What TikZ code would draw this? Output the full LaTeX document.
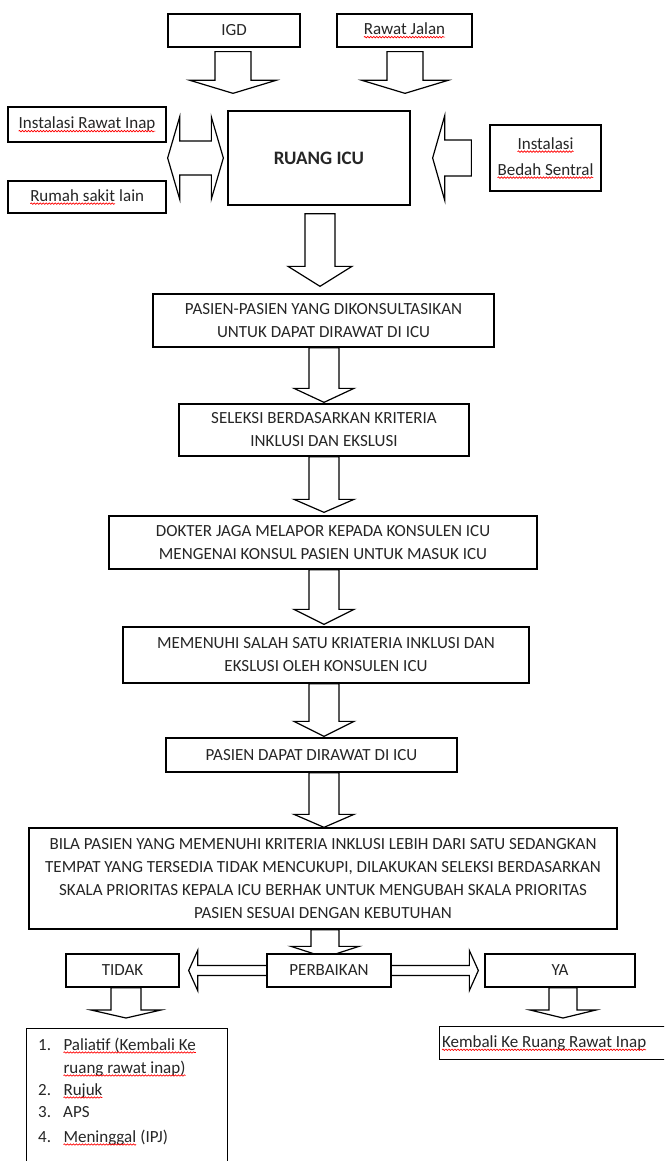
\documentclass[tikz,border=0pt]{standalone}
\usepackage{fontspec}
\setmainfont{Carlito}
\usetikzlibrary{calc,decorations.pathmorphing}
\pgfdeclarelayer{bg}
\pgfsetlayers{bg,main}
\tikzset{
  box/.style={draw=black, line width=1.3pt, fill=white, inner sep=2pt, align=center,
    font=\fontsize{17}{23}\selectfont, text=black!85},
  lt/.style={inner sep=0pt, anchor=base west, font=\fontsize{17}{20}\selectfont, text=black!85},
  blk/.style={draw=black, line width=1.2pt, fill=white, line join=miter},
  sqnode/.style={inner sep=0pt, outer sep=0pt, minimum width=0pt, minimum height=0pt,
    draw=none, fill=none, text width=, align=left, anchor=center},
}
\newcommand\sq[1]{\tikz[baseline=(w.base)]{\node[sqnode](w){#1};\draw[red,line width=0.7pt,decorate,decoration={snake,amplitude=0.7pt,segment length=3pt}] ([yshift=-2.5pt]w.base west) -- ([yshift=-2.5pt]w.base east);}}
% down block arrow
\newcommand\darr[8]{%
\draw[blk] let \p1=(#1.south), \p2=(#2.north) in
 (#3pt-#4pt,\y1-#7pt) -- (#3pt-#4pt,\y2+#8pt+#6pt) -- (#3pt-#5pt,\y2+#8pt+#6pt) -- (#3pt,\y2+#8pt)
 -- (#3pt+#5pt,\y2+#8pt+#6pt) -- (#3pt+#4pt,\y2+#8pt+#6pt) -- (#3pt+#4pt,\y1-#7pt) -- cycle;}
% horizontal double block arrow
\newcommand\hdbl[8]{%
\draw[blk] let \p1=(#1.east), \p2=(#2.west), \p3=(#3.center) in
 (\x1+#7pt,\y3) -- (\x1+#7pt+#6pt,\y3+#5pt) -- (\x1+#7pt+#6pt,\y3+#4pt) -- (\x2-#8pt-#6pt,\y3+#4pt)
 -- (\x2-#8pt-#6pt,\y3+#5pt) -- (\x2-#8pt,\y3) -- (\x2-#8pt-#6pt,\y3-#5pt) -- (\x2-#8pt-#6pt,\y3-#4pt)
 -- (\x1+#7pt+#6pt,\y3-#4pt) -- (\x1+#7pt+#6pt,\y3-#5pt) -- cycle;}
% left-pointing block arrow
\newcommand\larr[7]{%
\draw[blk] let \p1=(#1.west), \p2=(#2.east), \p3=(#2.center) in
 (\x1-#6pt,\y3+#3pt) -- (\x2+#7pt+#5pt,\y3+#3pt) -- (\x2+#7pt+#5pt,\y3+#4pt) -- (\x2+#7pt,\y3)
 -- (\x2+#7pt+#5pt,\y3-#4pt) -- (\x2+#7pt+#5pt,\y3-#3pt) -- (\x1-#6pt,\y3-#3pt) -- cycle;}
\begin{document}
\begin{tikzpicture}[x=1pt,y=-1pt]
\useasboundingbox (0,0) rectangle (664,1161);
\clip (0,0) rectangle (664,1161);

\node[box, minimum width=132pt, minimum height=33pt] (igd) at (234,30.5) {IGD};
\node[box, minimum width=135pt, minimum height=33pt] (rj) at (404.5,30.5) {\sq{Rawat Jalan}};
\node[box, minimum width=158pt, minimum height=35pt] (rin) at (87,124.5) {\sq{Instalasi Rawat Inap}};
\node[box, minimum width=158pt, minimum height=32pt] (rsl) at (87,197) {\sq{Rumah sakit} lain};
\node[box, minimum width=182pt, minimum height=94pt, font=\fontsize{19}{23}\bfseries] (icu) at (319,158) {RUANG ICU};
\node[box, minimum width=111pt, minimum height=66pt] (ibs) at (545.5,158) {\sq{Instalasi}\\[3pt]\sq{Bedah Sentral}};

\node[box, minimum width=341pt, minimum height=53pt] (p1) at (323.5,320.5) {PASIEN-PASIEN YANG DIKONSULTASIKAN\\UNTUK DAPAT DIRAWAT DI ICU};
\node[box, minimum width=290pt, minimum height=52pt] (p2) at (324,430) {SELEKSI BERDASARKAN KRITERIA\\INKLUSI DAN EKSLUSI};
\node[box, minimum width=428pt, minimum height=53pt] (p3) at (323,542.5) {DOKTER JAGA MELAPOR KEPADA KONSULEN ICU\\MENGENAI KONSUL PASIEN UNTUK MASUK ICU};
\node[box, minimum width=406pt, minimum height=56pt] (p4) at (326,655) {MEMENUHI SALAH SATU KRIATERIA INKLUSI DAN\\EKSLUSI OLEH KONSULEN ICU};
\node[box, minimum width=291pt, minimum height=34pt] (p5) at (311.5,755) {PASIEN DAPAT DIRAWAT DI ICU};
\node[box, minimum width=588pt, minimum height=101pt] (p6) at (323,878.5) {BILA PASIEN YANG MEMENUHI KRITERIA INKLUSI LEBIH DARI SATU SEDANGKAN\\TEMPAT YANG TERSEDIA TIDAK MENCUKUPI, DILAKUKAN SELEKSI BERDASARKAN\\SKALA PRIORITAS KEPALA ICU BERHAK UNTUK MENGUBAH SKALA PRIORITAS\\PASIEN SESUAI DENGAN KEBUTUHAN};

\node[box, minimum width=113pt, minimum height=33pt] (tidak) at (122.5,970.5) {TIDAK};
\node[box, minimum width=124pt, minimum height=33pt] (perb) at (329,970.5) {PERBAIKAN};
\node[box, minimum width=150pt, minimum height=33pt] (ya) at (560,970.5) {YA};

\node[box, anchor=north west, minimum width=201pt, minimum height=170pt] (lst) at (26,1028) {};
\node[box, anchor=north west, minimum height=33pt, text width=226pt, align=left] (kemb) at (439,1026) {\sq{Kembali Ke Ruang Rawat Inap}};

\node[lt] (n1) at (38,1050) {1.};
\node[lt] (t1) at (63,1050) {\sq{Paliatif (Kembali Ke}};
\node[lt] (t1b) at (63,1073) {\sq{ruang rawat inap)}};
\node[lt] (n2) at (38,1095) {2.};
\node[lt] (t2) at (63,1095) {\sq{Rujuk}};
\node[lt] (n3) at (38,1117) {3.};
\node[lt] (t3) at (63,1117) {APS};
\node[lt] (n4) at (38,1142) {4.};
\node[lt] (t4) at (63,1142) {\sq{Meninggal} (IPJ)};

\begin{pgfonlayer}{bg}
\fill[white] (0,0) rectangle (664,1161);
\darr{igd}{icu}{233}{18}{43}{13}{4}{17}
\darr{rj}{icu}{405}{18}{43}{13}{4}{17}
\darr{icu}{p1}{320}{15}{32}{20}{8}{7}
\darr{p1}{p2}{324}{15}{30}{14}{0}{1}
\darr{p2}{p3}{324}{15}{30}{13}{0}{3}
\darr{p3}{p4}{324}{15}{30}{15}{0}{2}
\darr{p4}{p5}{324}{15}{30}{15}{0}{1}
\darr{p5}{p6}{324}{15}{30}{13}{0}{0}
\darr{p6}{perb}{325}{14}{34}{11}{0}{-4}
\darr{tidak}{lst}{126}{15}{35}{8}{0}{10}
\darr{ya}{kemb}{563}{14}{33}{8}{0}{8}
\hdbl{rin}{icu}{icu}{17}{41}{12}{1}{4}
\larr{ibs}{icu}{18}{42}{12}{18}{22}
\hdbl{tidak}{ya}{perb}{5}{20}{9}{9}{6}
\end{pgfonlayer}
\end{tikzpicture}
\end{document}
